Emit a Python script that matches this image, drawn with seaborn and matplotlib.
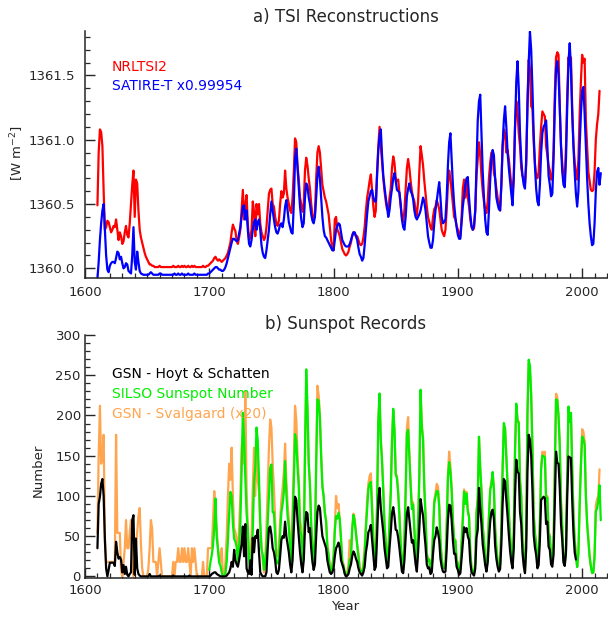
import numpy as np
import pandas as pd
import matplotlib
matplotlib.use("Agg")
import matplotlib.pyplot as plt
from matplotlib.ticker import MultipleLocator, FormatStrFormatter
import seaborn as sns

# ---------------- data (annual values) ----------------
nrltsi2_start = 1610
nrltsi2 = [
    1360.49, 1360.90, 1361.08, 1361.06, 1360.95, 1360.60, 1360.30, 1360.32, 1360.37, 1360.36,
    1360.32, 1360.28, 1360.30, 1360.33, 1360.32, 1360.38, 1360.30, 1360.22, 1360.28, 1360.25,
    1360.19, 1360.21, 1360.28, 1360.33, 1360.26, 1360.24, 1360.35, 1360.50, 1360.65, 1360.76,
    1360.40, 1360.69, 1360.66, 1360.45, 1360.30, 1360.24, 1360.20, 1360.16, 1360.12, 1360.09,
    1360.07, 1360.05, 1360.03, 1360.03, 1360.02, 1360.02, 1360.01, 1360.01, 1360.01, 1360.01,
    1360.02, 1360.01, 1360.01, 1360.01, 1360.01, 1360.01, 1360.01, 1360.01, 1360.01, 1360.01,
    1360.01, 1360.02, 1360.01, 1360.01, 1360.01, 1360.02, 1360.01, 1360.01, 1360.02, 1360.01,
    1360.02, 1360.01, 1360.01, 1360.02, 1360.01, 1360.01, 1360.02, 1360.01, 1360.02, 1360.01,
    1360.01, 1360.01, 1360.01, 1360.01, 1360.01, 1360.02, 1360.01, 1360.01, 1360.02, 1360.02,
    1360.03, 1360.04, 1360.05, 1360.06, 1360.08, 1360.09, 1360.07, 1360.06, 1360.07, 1360.06,
    1360.05, 1360.06, 1360.07, 1360.08, 1360.10, 1360.12, 1360.16, 1360.20, 1360.28, 1360.34,
    1360.31, 1360.29, 1360.22, 1360.19, 1360.24, 1360.30, 1360.45, 1360.61, 1360.38, 1360.50,
    1360.57, 1360.35, 1360.22, 1360.24, 1360.30, 1360.52, 1360.44, 1360.25, 1360.50, 1360.42,
    1360.50, 1360.35, 1360.28, 1360.25, 1360.22, 1360.24, 1360.32, 1360.45, 1360.58, 1360.61,
    1360.62, 1360.50, 1360.48, 1360.40, 1360.35, 1360.33, 1360.37, 1360.50, 1360.60, 1360.55,
    1360.58, 1360.76, 1360.62, 1360.55, 1360.50, 1360.45, 1360.43, 1360.55, 1360.75, 1361.01,
    1360.98, 1360.80, 1360.69, 1360.55, 1360.50, 1360.44, 1360.50, 1360.76, 1360.86, 1360.80,
    1360.70, 1360.62, 1360.50, 1360.42, 1360.38, 1360.42, 1360.70, 1360.90, 1360.95, 1360.90,
    1360.78, 1360.65, 1360.60, 1360.55, 1360.52, 1360.47, 1360.42, 1360.32, 1360.22, 1360.16,
    1360.14, 1360.38, 1360.40, 1360.30, 1360.28, 1360.25, 1360.20, 1360.15, 1360.13, 1360.11,
    1360.10, 1360.11, 1360.13, 1360.17, 1360.20, 1360.26, 1360.28, 1360.27, 1360.25, 1360.25,
    1360.22, 1360.19, 1360.18, 1360.19, 1360.24, 1360.32, 1360.45, 1360.55, 1360.61, 1360.68,
    1360.73, 1360.60, 1360.48, 1360.40, 1360.45, 1360.75, 1360.95, 1361.10, 1360.95, 1360.82,
    1360.70, 1360.60, 1360.52, 1360.46, 1360.45, 1360.55, 1360.62, 1360.78, 1360.87, 1360.82,
    1360.70, 1360.68, 1360.69, 1360.58, 1360.48, 1360.40, 1360.36, 1360.45, 1360.62, 1360.78,
    1360.85, 1360.78, 1360.68, 1360.60, 1360.55, 1360.52, 1360.45, 1360.41, 1360.52, 1360.75,
    1360.95, 1360.88, 1360.80, 1360.68, 1360.58, 1360.48, 1360.40, 1360.36, 1360.32, 1360.30,
    1360.40, 1360.46, 1360.48, 1360.53, 1360.50, 1360.46, 1360.38, 1360.30, 1360.27, 1360.25,
    1360.30, 1360.45, 1360.65, 1360.76, 1360.70, 1360.60, 1360.50, 1360.40, 1360.38, 1360.33,
    1360.30, 1360.26, 1360.25, 1360.40, 1360.62, 1360.69, 1360.55, 1360.68, 1360.55, 1360.48,
    1360.38, 1360.32, 1360.30, 1360.31, 1360.45, 1360.72, 1360.85, 1360.98, 1360.88, 1360.72,
    1360.60, 1360.52, 1360.45, 1360.43, 1360.52, 1360.70, 1360.82, 1360.90, 1360.88, 1360.74,
    1360.70, 1360.62, 1360.55, 1360.48, 1360.45, 1360.65, 1360.95, 1361.08, 1361.05, 1360.90,
    1360.92, 1360.85, 1360.75, 1360.65, 1360.58, 1360.72, 1361.10, 1361.30, 1361.22, 1361.05,
    1360.95, 1360.78, 1360.72, 1360.70, 1360.66, 1360.80, 1361.30, 1361.62, 1361.55, 1361.26,
    1361.24, 1360.98, 1360.82, 1360.72, 1360.70, 1360.75, 1360.95, 1361.10, 1361.22, 1361.20,
    1361.18, 1360.95, 1360.88, 1360.80, 1360.76, 1360.69, 1360.70, 1360.92, 1361.35, 1361.64,
    1361.68, 1361.66, 1361.25, 1360.95, 1360.82, 1360.69, 1360.68, 1360.95, 1361.35, 1361.64,
    1361.58, 1361.64, 1361.25, 1360.97, 1360.82, 1360.74, 1360.69, 1360.85, 1361.20, 1361.45,
    1361.66, 1361.60, 1361.63, 1361.15, 1360.95, 1360.75, 1360.68, 1360.61, 1360.60, 1360.61,
    1360.75, 1361.00, 1361.12, 1361.20, 1361.38,
]

satire_start = 1610
satire_t = [
    1359.92, 1360.05, 1360.22, 1360.35, 1360.45, 1360.50, 1360.30, 1360.10, 1359.99, 1359.97,
    1360.02, 1360.04, 1360.05, 1360.05, 1360.04, 1360.08, 1360.13, 1360.12, 1360.07, 1360.09,
    1360.04, 1360.00, 1360.01, 1360.04, 1360.03, 1359.98, 1359.97, 1359.96, 1360.10, 1360.32,
    1360.05, 1359.99, 1360.13, 1360.05, 1359.98, 1359.96, 1359.955, 1359.95, 1359.95, 1359.95,
    1359.95, 1359.95, 1359.96, 1359.97, 1359.96, 1359.95, 1359.95, 1359.95, 1359.95, 1359.95,
    1359.96, 1359.96, 1359.95, 1359.95, 1359.95, 1359.95, 1359.95, 1359.95, 1359.95, 1359.95,
    1359.95, 1359.95, 1359.96, 1359.95, 1359.95, 1359.96, 1359.95, 1359.95, 1359.96, 1359.95,
    1359.95, 1359.95, 1359.95, 1359.96, 1359.95, 1359.95, 1359.95, 1359.95, 1359.96, 1359.95,
    1359.95, 1359.95, 1359.95, 1359.95, 1359.95, 1359.95, 1359.95, 1359.95, 1359.95, 1359.96,
    1359.96, 1359.97, 1359.98, 1359.99, 1360.00, 1360.01, 1360.01, 1360.00, 1359.99, 1359.99,
    1359.98, 1359.98, 1359.99, 1360.01, 1360.04, 1360.08, 1360.12, 1360.16, 1360.20, 1360.23,
    1360.23, 1360.22, 1360.21, 1360.22, 1360.27, 1360.32, 1360.40, 1360.48, 1360.49, 1360.38,
    1360.45, 1360.30, 1360.19, 1360.17, 1360.22, 1360.30, 1360.36, 1360.38, 1360.30, 1360.36,
    1360.38, 1360.30, 1360.18, 1360.12, 1360.09, 1360.08, 1360.14, 1360.22, 1360.30, 1360.42,
    1360.52, 1360.45, 1360.38, 1360.32, 1360.28, 1360.27, 1360.30, 1360.34, 1360.35, 1360.32,
    1360.38, 1360.48, 1360.53, 1360.45, 1360.36, 1360.32, 1360.28, 1360.27, 1360.50, 1360.85,
    1360.93, 1360.78, 1360.62, 1360.48, 1360.38, 1360.32, 1360.35, 1360.55, 1360.66, 1360.64,
    1360.55, 1360.50, 1360.42, 1360.37, 1360.35, 1360.40, 1360.55, 1360.72, 1360.79, 1360.70,
    1360.55, 1360.40, 1360.30, 1360.25, 1360.24, 1360.22, 1360.20, 1360.18, 1360.16, 1360.14,
    1360.14, 1360.22, 1360.30, 1360.33, 1360.35, 1360.34, 1360.28, 1360.22, 1360.20, 1360.18,
    1360.17, 1360.17, 1360.17, 1360.19, 1360.22, 1360.25, 1360.28, 1360.28, 1360.25, 1360.22,
    1360.16, 1360.11, 1360.09, 1360.06, 1360.08, 1360.18, 1360.30, 1360.42, 1360.52, 1360.56,
    1360.60, 1360.61, 1360.55, 1360.52, 1360.52, 1360.72, 1360.92, 1361.03, 1361.08, 1360.88,
    1360.72, 1360.63, 1360.55, 1360.48, 1360.40, 1360.45, 1360.55, 1360.62, 1360.70, 1360.74,
    1360.68, 1360.61, 1360.60, 1360.59, 1360.50, 1360.38, 1360.32, 1360.30, 1360.40, 1360.56,
    1360.62, 1360.66, 1360.60, 1360.58, 1360.54, 1360.45, 1360.40, 1360.38, 1360.40, 1360.42,
    1360.45, 1360.50, 1360.55, 1360.52, 1360.45, 1360.35, 1360.25, 1360.20, 1360.16, 1360.16,
    1360.22, 1360.35, 1360.45, 1360.52, 1360.60, 1360.67, 1360.55, 1360.40, 1360.35, 1360.36,
    1360.38, 1360.55, 1360.80, 1360.98, 1361.05, 1360.85, 1360.65, 1360.50, 1360.40, 1360.32,
    1360.26, 1360.23, 1360.23, 1360.35, 1360.48, 1360.56, 1360.65, 1360.70, 1360.71, 1360.55,
    1360.42, 1360.33, 1360.30, 1360.33, 1360.45, 1360.80, 1361.15, 1361.30, 1361.35, 1361.05,
    1360.75, 1360.55, 1360.38, 1360.28, 1360.26, 1360.45, 1360.68, 1360.85, 1360.92, 1360.88,
    1360.70, 1360.55, 1360.50, 1360.46, 1360.45, 1360.65, 1360.95, 1361.15, 1361.26, 1361.10,
    1360.90, 1360.78, 1360.68, 1360.58, 1360.49, 1360.70, 1361.10, 1361.45, 1361.61, 1361.40,
    1361.05, 1360.85, 1360.72, 1360.65, 1360.62, 1360.85, 1361.25, 1361.60, 1361.84, 1361.70,
    1361.40, 1361.05, 1360.80, 1360.62, 1360.52, 1360.49, 1360.65, 1360.90, 1361.05, 1361.10,
    1361.12, 1361.15, 1360.95, 1360.72, 1360.65, 1360.56, 1360.58, 1360.85, 1361.25, 1361.55,
    1361.61, 1361.50, 1361.25, 1360.95, 1360.75, 1360.65, 1360.63, 1360.85, 1361.25, 1361.60,
    1361.75, 1361.55, 1361.20, 1360.95, 1360.75, 1360.58, 1360.48, 1360.60, 1360.95, 1361.20,
    1361.38, 1361.41, 1361.20, 1360.95, 1360.70, 1360.50, 1360.35, 1360.25, 1360.18, 1360.19,
    1360.35, 1360.60, 1360.75, 1360.78, 1360.65, 1360.74,
]

gsn_hs_start = 1610
gsn_hs = [
    35, 90, 99, 115, 121, 100, 45, 10, 0, 8,
    17, 17, 17, 17, 13, 43, 30, 22, 24, 21,
    5, 14, 3, 12, 2, 0, 3, 5, 70, 76,
    2, 47, 10, 3, 1, 0, 0, 0, 0, 0,
    0, 0, 3, 0, 0, 0, 0, 0, 0, 0,
    1, 0, 0, 0, 0, 0, 0, 0, 0, 0,
    0, 1, 0, 0, 0, 0, 0, 0, 0, 0,
    0, 0, 0, 0, 1, 0, 0, 0, 0, 0,
    0, 0, 0, 0, 0, 0, 0, 0, 0, 0,
    0, 1, 3, 4, 5, 5, 3, 2, 1, 0,
    0, 0, 0, 0, 1, 3, 5, 10, 18, 12,
    33, 20, 15, 12, 20, 30, 40, 62, 25, 65,
    10, 5, 3, 20, 2, 48, 30, 50, 48, 58,
    30, 5, 2, 0, 0, 0, 5, 35, 60, 62,
    52, 35, 30, 20, 5, 3, 8, 25, 45, 50,
    48, 68, 50, 40, 30, 15, 5, 20, 60, 99,
    95, 70, 50, 30, 15, 5, 20, 60, 80, 78,
    55, 60, 35, 18, 8, 15, 50, 80, 88, 85,
    66, 50, 45, 40, 35, 20, 12, 5, 3, 5,
    10, 25, 35, 38, 42, 35, 20, 15, 10, 3,
    0, 1, 3, 10, 15, 25, 31, 28, 22, 18,
    10, 5, 3, 1, 5, 12, 30, 40, 55, 58,
    64, 45, 25, 8, 12, 50, 95, 110, 85, 70,
    55, 35, 22, 10, 12, 35, 55, 78, 86, 75,
    58, 57, 48, 35, 20, 6, 4, 20, 50, 78,
    86, 70, 55, 42, 45, 30, 15, 6, 30, 60,
    96, 85, 75, 55, 38, 15, 10, 11, 3, 5,
    28, 45, 50, 61, 55, 45, 22, 12, 6, 5,
    6, 33, 70, 89, 88, 70, 45, 28, 28, 12,
    8, 2, 4, 22, 42, 61, 55, 60, 50, 45,
    18, 5, 3, 1, 10, 48, 58, 110, 85, 65,
    40, 27, 14, 6, 17, 45, 68, 80, 83, 72,
    38, 22, 12, 6, 9, 40, 90, 121, 118, 95,
    75, 52, 32, 18, 10, 35, 100, 145, 130, 128,
    80, 65, 30, 13, 4, 35, 130, 176, 170, 150,
    108, 52, 36, 27, 10, 14, 45, 95, 97, 99,
    97, 65, 68, 37, 33, 15, 12, 27, 90, 155,
    141, 140, 110, 65, 45, 17, 13, 30, 100, 149,
    148, 147, 95, 55, 30, 21,
]

silso_start = 1700
silso = [
    8.3, 18.3, 26.7, 38.3, 60.0, 96.7, 48.3, 33.3, 16.7, 13.3,
    5.0, 0.0, 0.0, 3.3, 18.3, 45.0, 78.3, 105.0, 100.0, 65.0,
    46.7, 43.3, 36.7, 18.3, 35.0, 66.7, 130.0, 203.3, 171.7, 121.7,
    78.3, 58.3, 18.3, 8.3, 26.7, 56.7, 116.7, 135.0, 185.0, 168.3,
    121.7, 66.7, 33.3, 26.7, 8.3, 18.3, 36.7, 66.7, 100.0, 134.8,
    139.0, 79.5, 79.7, 51.2, 20.3, 16.0, 17.0, 54.0, 79.3, 90.0,
    104.8, 143.2, 102.0, 75.2, 60.7, 34.8, 19.0, 63.0, 116.3, 176.8,
    168.0, 136.0, 110.8, 58.0, 51.0, 11.7, 33.0, 154.2, 257.3, 209.8,
    141.3, 113.5, 64.2, 38.0, 17.0, 40.2, 138.2, 220.0, 218.2, 196.8,
    149.8, 111.0, 100.0, 78.2, 68.3, 35.5, 26.7, 10.7, 6.8, 11.3,
    24.2, 56.7, 75.0, 71.8, 79.2, 70.3, 46.8, 16.8, 13.5, 4.2,
    0.0, 2.3, 8.3, 20.3, 23.2, 59.0, 76.3, 68.3, 52.9, 38.5,
    24.2, 9.2, 6.3, 2.2, 11.4, 28.2, 59.9, 83.0, 108.5, 115.2,
    117.4, 80.8, 44.3, 13.4, 19.5, 85.8, 192.7, 227.3, 168.7, 143.0,
    105.5, 63.3, 40.3, 18.1, 25.1, 65.8, 102.7, 166.3, 208.3, 182.5,
    126.3, 122.0, 102.7, 74.1, 39.0, 12.7, 8.2, 43.4, 104.4, 178.3,
    182.2, 146.6, 112.1, 83.5, 89.2, 57.8, 30.7, 13.9, 62.8, 123.6,
    232.0, 185.3, 169.2, 110.1, 74.5, 28.3, 18.9, 20.7, 5.7, 10.0,
    53.7, 90.5, 99.0, 106.1, 105.8, 86.3, 42.4, 21.8, 11.2, 10.4,
    11.8, 59.5, 121.7, 142.0, 130.0, 106.6, 69.4, 43.8, 44.4, 20.2,
    15.7, 4.6, 8.5, 40.8, 70.1, 105.5, 90.1, 102.8, 80.9, 73.2,
    30.9, 9.5, 6.0, 2.4, 16.1, 79.0, 95.0, 173.6, 134.6, 105.7,
    62.7, 43.5, 23.7, 9.7, 27.9, 73.8, 106.5, 114.7, 129.7, 108.2,
    59.4, 35.1, 18.6, 9.2, 14.6, 60.2, 132.8, 190.6, 182.6, 148.0,
    113.0, 79.2, 50.8, 27.1, 16.1, 55.3, 154.3, 214.7, 193.0, 190.7,
    118.9, 98.3, 45.0, 20.1, 6.6, 54.2, 200.7, 269.3, 261.7, 225.1,
    159.0, 76.4, 53.4, 39.9, 15.0, 22.0, 66.8, 132.9, 150.0, 149.4,
    148.0, 94.4, 97.6, 54.1, 49.2, 22.5, 18.4, 39.3, 131.0, 220.1,
    218.9, 198.9, 162.4, 91.0, 60.5, 20.6, 14.8, 33.9, 123.0, 211.1,
    191.8, 203.3, 133.0, 76.1, 44.9, 25.1, 11.6, 28.9, 88.3, 136.3,
    173.9, 170.4, 163.6, 99.3, 65.3, 45.8, 24.7, 12.6, 4.2, 4.8,
    24.9, 80.8, 84.5, 94.0, 113.3, 69.8,
]

gsn_svalgaard_start = 1610
gsn_svalgaard_x20 = [
    54, 150, 212, 140, 149, 176, 50, 17, 18, 18,
    18, 18, 18, 18, 18, 176, 54, 54, 54, 8,
    0, 18, 35, 70, 35, 35, 55, 70, 18, 0,
    18, 35, 55, 75, 85, 40, 10, 0, 0, 0,
    0, 10, 35, 70, 60, 18, 18, 18, 0, 18,
    35, 18, 0, 0, 0, 0, 0, 0, 0, 0,
    0, 18, 0, 18, 18, 35, 18, 18, 35, 18,
    35, 18, 18, 35, 18, 0, 35, 18, 35, 18,
    0, 0, 0, 0, 0, 18, 0, 0, 0, 35,
    35, 35, 35, 70, 106, 80, 58, 35, 20, 18,
    35, 0, 0, 18, 50, 100, 140, 120, 160, 100,
    60, 55, 45, 35, 60, 100, 160, 175, 140, 230,
    110, 60, 25, 15, 50, 110, 160, 100, 160, 120,
    105, 60, 40, 20, 5, 20, 60, 110, 160, 195,
    185, 140, 110, 70, 30, 25, 35, 70, 95, 110,
    130, 165, 120, 90, 70, 45, 30, 80, 140, 212,
    195, 150, 120, 70, 60, 15, 40, 150, 240, 205,
    140, 115, 65, 40, 20, 45, 145, 237, 225, 200,
    150, 115, 100, 80, 70, 40, 28, 12, 8, 15,
    25, 60, 100, 85, 90, 70, 45, 20, 15, 5,
    0, 5, 15, 45, 30, 60, 78, 72, 55, 40,
    30, 12, 8, 3, 15, 35, 65, 95, 115, 125,
    128, 90, 50, 15, 22, 90, 195, 225, 170, 145,
    110, 65, 42, 20, 28, 70, 105, 170, 205, 180,
    128, 125, 105, 78, 42, 14, 10, 45, 110, 185,
    198, 152, 118, 88, 92, 60, 32, 15, 65, 128,
    228, 190, 172, 112, 76, 30, 20, 22, 6, 11,
    56, 95, 103, 115, 112, 90, 45, 23, 12, 11,
    13, 62, 127, 155, 138, 112, 72, 46, 46, 21,
    16, 5, 9, 42, 73, 108, 93, 105, 83, 75,
    32, 10, 6, 3, 17, 81, 97, 171, 136, 107,
    64, 45, 24, 10, 29, 76, 109, 118, 128, 110,
    61, 36, 19, 10, 15, 62, 135, 188, 185, 150,
    115, 81, 52, 28, 17, 57, 158, 212, 196, 192,
    121, 100, 46, 21, 7, 56, 204, 265, 258, 226,
    162, 78, 55, 41, 16, 23, 69, 137, 155, 152,
    155, 97, 100, 56, 51, 23, 19, 41, 135, 227,
    223, 200, 165, 93, 62, 21, 15, 35, 126, 208,
    195, 200, 136, 78, 46, 26, 12, 30, 90, 140,
    183, 180, 168, 102, 68, 47, 25, 13, 4, 5,
    27, 88, 96, 100, 133,
]

x_ticks = [1600, 1700, 1800, 1900, 2000]
tsi_ticks = [1360.0, 1360.5, 1361.0, 1361.5]
ssn_ticks = [0, 50, 100, 150, 200, 250, 300]

# ---------------- figure ----------------
sns.set_style("ticks")
plt.rcParams['font.family'] = ['DejaVu Sans']

W, H = 608, 617
fig = plt.figure(figsize=(W / 100, H / 100), dpi=100)


def rect(l, t, r, b):
    return [l / W, 1 - b / H, (r - l) / W, (b - t) / H]


ax1 = fig.add_axes(rect(85, 31, 607, 278))
ax2 = fig.add_axes(rect(85, 335, 607, 578))


def series(start, vals):
    return pd.DataFrame({"year": np.arange(start, start + len(vals)), "val": vals})


lw = 1.6
d = series(nrltsi2_start, nrltsi2)
sns.lineplot(data=d, x="year", y="val", ax=ax1, color="#ff0000", lw=lw, estimator=None)
d = series(satire_start, satire_t)
sns.lineplot(data=d, x="year", y="val", ax=ax1, color="#0000ff", lw=lw, estimator=None)

d = series(gsn_svalgaard_start, gsn_svalgaard_x20)
sns.lineplot(data=d, x="year", y="val", ax=ax2, color="#ffa54f", lw=lw, estimator=None)
d = series(silso_start, silso)
sns.lineplot(data=d, x="year", y="val", ax=ax2, color="#00ee00", lw=lw, estimator=None)
d = series(gsn_hs_start, gsn_hs)
sns.lineplot(data=d, x="year", y="val", ax=ax2, color="#000000", lw=lw, estimator=None)

ax1.set_xlim(1600, 2020)
ax1.set_ylim(1359.925, 1361.845)
ax2.set_xlim(1600, 2020)
ax2.set_ylim(-2, 300)

tfs = 9.5
for ax in (ax1, ax2):
    ax.set_xlabel("")
    ax.set_ylabel("")
    for s in ("top", "right"):
        ax.spines[s].set_visible(False)
    for s in ("left", "bottom"):
        ax.spines[s].set_linewidth(1.1)
    ax.set_xticks(x_ticks)
    ax.xaxis.set_minor_locator(MultipleLocator(10))
    ax.tick_params(which="major", direction="in", length=7, width=1.0, labelsize=tfs)
    ax.tick_params(which="minor", direction="in", length=3.5, width=0.9)

ax1.set_yticks(tsi_ticks)
ax1.yaxis.set_major_formatter(FormatStrFormatter("%.1f"))
ax1.yaxis.set_minor_locator(MultipleLocator(0.1))
ax1.tick_params(axis="x", which="major", pad=6)
ax1.tick_params(axis="y", which="major", pad=7)

ax2.set_yticks(ssn_ticks)
ax2.yaxis.set_minor_locator(MultipleLocator(10))
ax2.tick_params(axis="x", which="major", pad=4)
ax2.tick_params(axis="y", which="major", pad=3)

# titles and labels
fig.text(345.5 / W, 1 - 17 / H, "a) TSI Reconstructions", ha="center", va="center", fontsize=12)
fig.text(345.5 / W, 1 - 324 / H, "b) Sunspot Records", ha="center", va="center", fontsize=12)
fig.text(17 / W, 1 - 153 / H, "[W m$^{-2}$]", ha="center", va="center", rotation=90, fontsize=tfs)
fig.text(38 / W, 1 - 470 / H, "Number", ha="center", va="center", rotation=90, fontsize=tfs)
fig.text(345 / W, 1 - 607 / H, "Year", ha="center", va="center", fontsize=tfs)

# colored legend texts
fs = 10
fig.text(112 / W, 1 - 67 / H, "NRLTSI2", color="#ff0000", ha="left", va="center", fontsize=fs)
fig.text(112 / W, 1 - 86 / H, "SATIRE-T x0.99954", color="#0000ff", ha="left", va="center", fontsize=fs)
fig.text(112 / W, 1 - 374 / H, "GSN - Hoyt & Schatten", color="#000000", ha="left", va="center", fontsize=fs)
fig.text(112 / W, 1 - 394 / H, "SILSO Sunspot Number", color="#00ee00", ha="left", va="center", fontsize=fs)
fig.text(112 / W, 1 - 414 / H, "GSN - Svalgaard (x20)", color="#ffa54f", ha="left", va="center", fontsize=fs)

fig.savefig("out.png", dpi=100)
